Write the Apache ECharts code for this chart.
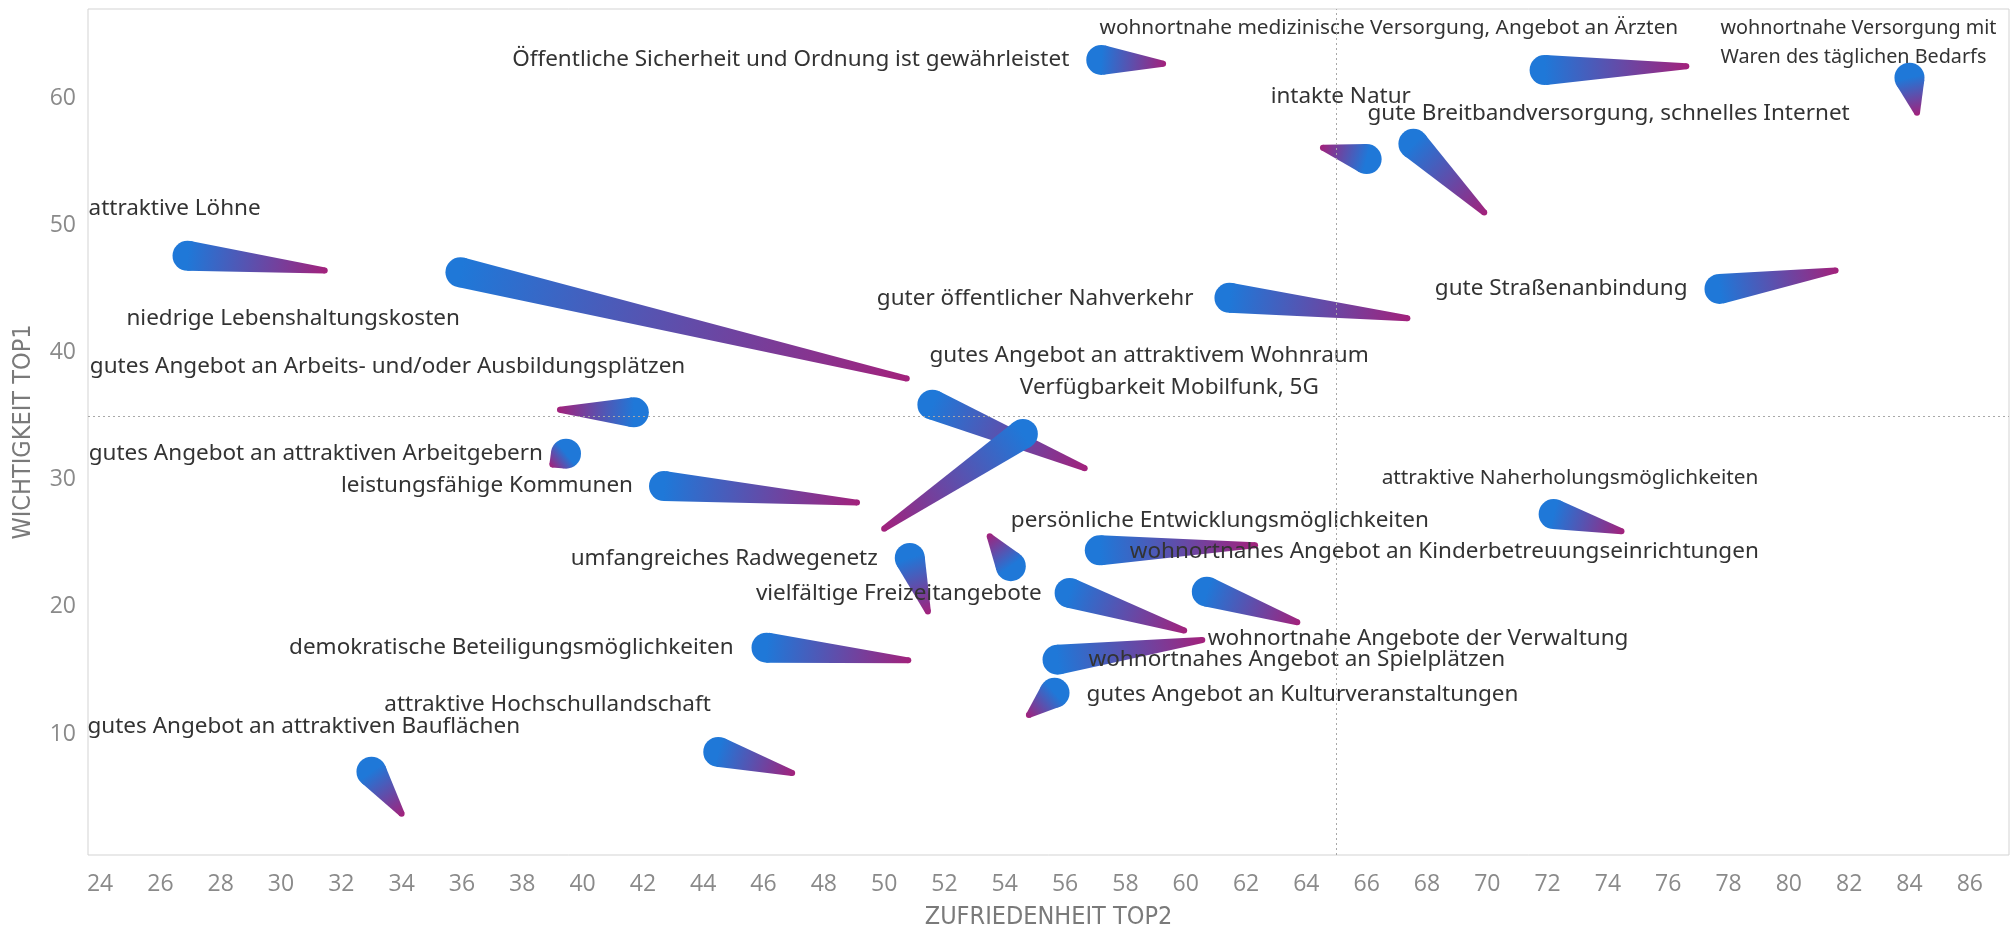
<!DOCTYPE html>
<html><head><meta charset="utf-8">
<script src="https://cdn.jsdelivr.net/npm/echarts@6/dist/echarts.min.js"></script>
<style>html,body{margin:0;padding:0;background:#fff}#c{width:2013px;height:941px}</style>
</head><body><div id="c"></div>
<script>
// ---- data ----
const labels = [
  'Öffentliche Sicherheit und Ordnung ist gewährleistet',
  'wohnortnahe medizinische Versorgung, Angebot an Ärzten',
  'wohnortnahe Versorgung mit\nWaren des täglichen Bedarfs',
  'intakte Natur',
  'gute Breitbandversorgung, schnelles Internet',
  'attraktive Löhne',
  'niedrige Lebenshaltungskosten',
  'guter öffentlicher Nahverkehr',
  'gute Straßenanbindung',
  'gutes Angebot an Arbeits- und/oder Ausbildungsplätzen',
  'gutes Angebot an attraktivem Wohnraum',
  'Verfügbarkeit Mobilfunk, 5G',
  'gutes Angebot an attraktiven Arbeitgebern',
  'leistungsfähige Kommunen',
  'attraktive Naherholungsmöglichkeiten',
  'umfangreiches Radwegenetz',
  'persönliche Entwicklungsmöglichkeiten',
  'wohnortnahes Angebot an Kinderbetreuungseinrichtungen',
  'vielfältige Freizeitangebote',
  'wohnortnahe Angebote der Verwaltung',
  'demokratische Beteiligungsmöglichkeiten',
  'wohnortnahes Angebot an Spielplätzen',
  'gutes Angebot an Kulturveranstaltungen',
  'attraktive Hochschullandschaft',
  'gutes Angebot an attraktiven Bauflächen'
];
// Zufriedenheit Top2 / Wichtigkeit Top1 (round end of each comet)
const zufriedenheit = [57.2, 71.9, 84.0, 66.0, 67.55, 26.9, 35.95, 61.45, 77.7, 41.7, 51.6, 54.6, 39.45, 42.7, 72.2, 50.85, 54.2, 57.15, 56.15, 60.7, 46.1, 55.75, 55.65, 44.5, 33.0];
const wichtigkeit   = [63.0, 62.2, 61.6, 55.2, 56.4, 47.6, 46.3, 44.3, 45.0, 35.3, 35.9, 33.6, 32.05, 29.5, 27.3, 23.85, 23.2, 24.45, 21.1, 21.2, 16.8, 15.85, 13.25, 8.6, 7.05];
// thin end of each comet
const zufriedenheitEnde = [59.25, 76.6, 84.25, 64.55, 69.9, 31.45, 50.75, 67.35, 81.55, 39.25, 56.65, 50.0, 39.0, 49.1, 74.45, 51.45, 53.5, 62.3, 59.95, 63.7, 50.8, 60.55, 54.8, 46.95, 34.0];
const wichtigkeitEnde   = [62.7, 62.5, 58.85, 56.1, 51.0, 46.45, 37.95, 42.7, 46.45, 35.5, 30.9, 26.15, 31.2, 28.2, 25.95, 19.65, 25.55, 24.85, 18.15, 18.8, 15.8, 17.4, 11.5, 6.95, 3.75];
const xTicks = [24,26,28,30,32,34,36,38,40,42,44,46,48,50,52,54,56,58,60,62,64,66,68,70,72,74,76,78,80,82,84,86];
const yTicks = [10,20,30,40,50,60];
const refX = 65, refY = 35;

// ---- label placement (pixel offsets from the round end, alignment, font size) ----
const labelPlacement = [
  [-32, 0, 'right', 22.5], [-445, -42, 'left', 20.8], [-189, -35, 'left', 19.8], [-96, -63, 'left', 22.5],
  [-46, -30, 'left', 22.5], [-99, -47, 'left', 22.5], [-334, 46, 'left', 22.5], [-36, 1, 'right', 22.5],
  [-32, 0, 'right', 22.5], [-544, -46, 'left', 22.5], [-3, -49, 'left', 22.5], [-3, -46, 'left', 22.5],
  [-23, 0, 'right', 22.5], [-31, 0, 'right', 22.5], [-172, -36, 'left', 20.8], [-32, 1, 'right', 22.5],
  [0, -46, 'left', 22.5], [30, 1, 'left', 22.5], [-28, 1, 'right', 22.5], [1, 47, 'left', 22.5],
  [-33, 0, 'right', 22.5], [31, 0, 'left', 22.5], [32, 2, 'left', 22.5], [-334, -47, 'left', 22.5], [-284, -45, 'left', 22.5]
];

const data = labels.map((n, i) => [zufriedenheit[i], wichtigkeit[i], zufriedenheitEnde[i], wichtigkeitEnde[i], i]);
const R = 15, r = 3;
const BLUE = '#1f78d8', MAG = '#a3217b';

function renderComet(params, api) {
  const h = api.coord([api.value(0), api.value(1)]);
  const t = api.coord([api.value(2), api.value(3)]);
  const dx = t[0] - h[0], dy = t[1] - h[1];
  const L = Math.hypot(dx, dy) || 1;
  const ux = dx / L, uy = dy / L, nx = -uy, ny = ux;
  const fill = { type: 'linear', x: h[0], y: h[1], x2: t[0] + ux * r, y2: t[1] + uy * r, global: true,
    colorStops: [{ offset: 0, color: BLUE }, { offset: 1, color: MAG }] };
  const children = [];
  if (L > R - r) {
    const s = (R - r) / L, c = Math.sqrt(Math.max(0, 1 - s * s));
    const v1 = [s * ux + c * nx, s * uy + c * ny];
    const v2 = [s * ux - c * nx, s * uy - c * ny];
    children.push({ type: 'polygon', shape: { points: [
      [h[0] + R * v1[0], h[1] + R * v1[1]], [t[0] + r * v1[0], t[1] + r * v1[1]],
      [t[0] + r * v2[0], t[1] + r * v2[1]], [h[0] + R * v2[0], h[1] + R * v2[1]]] }, style: { fill } });
    children.push({ type: 'circle', shape: { cx: t[0], cy: t[1], r }, style: { fill } });
  }
  children.push({ type: 'circle', shape: { cx: h[0], cy: h[1], r: R }, style: { fill } });
  return { type: 'group', children };
}

function renderLabel(params, api) {
  const i = api.value(4);
  const h = api.coord([api.value(0), api.value(1)]);
  const p = labelPlacement[i];
  return { type: 'text', x: h[0] + p[0], y: h[1] + p[1], style: {
    text: labels[i], fill: '#333333', font: p[3] + 'px "Noto Sans"', align: p[2], verticalAlign: 'middle', lineHeight: 29 } };
}

const axisTitleFont = { color: '#7a7a7a', fontSize: 25, fontFamily: '"Liberation Sans Narrow", "DejaVu Sans Condensed", sans-serif' };
const chart = echarts.init(document.getElementById('c'));
chart.setOption({
  animation: false,
  grid: { left: 88, right: 4, top: 9, bottom: 86, show: true, borderColor: '#d3d3d3', borderWidth: 1,
    outerBoundsMode: 'none', containLabel: false },
  xAxis: {
    type: 'value', min: 23.6, max: 87.3,
    name: 'ZUFRIEDENHEIT TOP2', nameLocation: 'middle', nameGap: 50, nameTextStyle: axisTitleFont,
    axisLine: { show: false }, axisTick: { show: false }, splitLine: { show: false },
    axisLabel: { customValues: xTicks, color: '#8a8a8a', fontSize: 23, fontFamily: '"Open Sans"', margin: 18 }
  },
  yAxis: {
    type: 'value', min: 0.5, max: 67,
    name: 'WICHTIGKEIT TOP1', nameLocation: 'middle', nameGap: 52, nameTextStyle: axisTitleFont,
    axisLine: { show: false }, axisTick: { show: false }, splitLine: { show: false },
    axisLabel: { customValues: yTicks, color: '#8a8a8a', fontSize: 23, fontFamily: '"Open Sans"', margin: 12 }
  },
  series: [
    { type: 'custom', z: 1, data: [], renderItem: () => null,
      markLine: { silent: true, symbol: 'none', label: { show: false },
        lineStyle: { type: [2, 3], color: '#a8a8a8', width: 1 },
        data: [{ xAxis: refX }, { yAxis: refY }] } },
    { type: 'custom', z: 2, clip: false, data, renderItem: renderComet, encode: { x: [0, 2], y: [1, 3] } },
    { type: 'custom', z: 3, clip: false, data, renderItem: renderLabel, encode: { x: [0, 2], y: [1, 3] } }
  ]
});
</script></body></html>
